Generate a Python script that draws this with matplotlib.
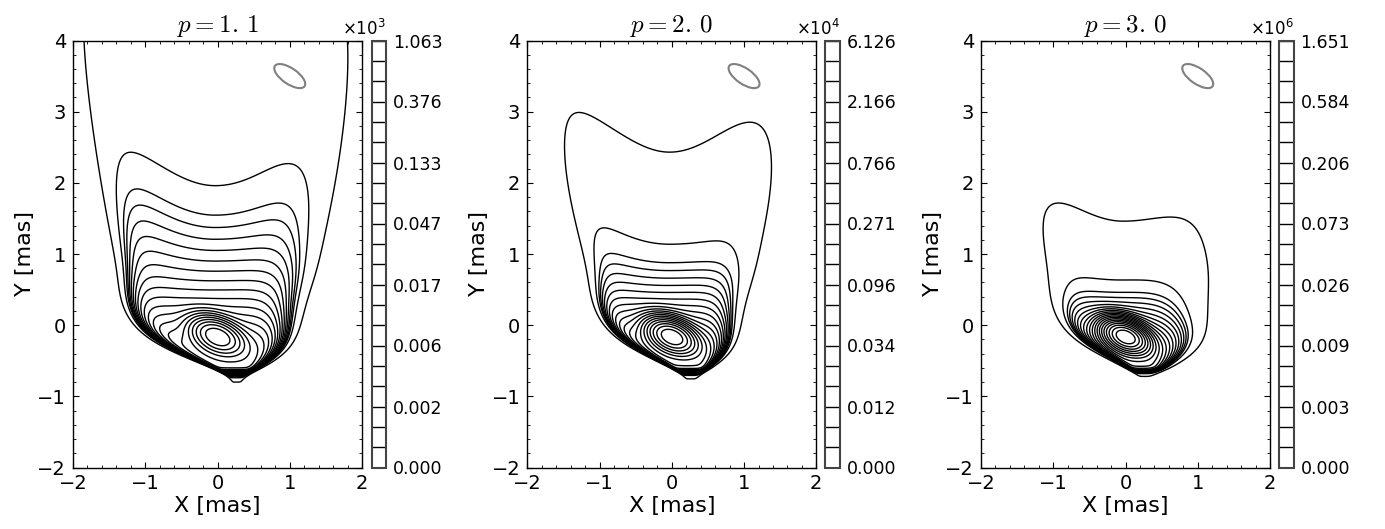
"""
Brightness maps of a limb-brightened jet for three electron indices p.
Each panel: contour map (log-spaced levels) + contour colorbar + beam.
"""
import numpy as np
import matplotlib
matplotlib.use("Agg")
import matplotlib.pyplot as plt
from matplotlib.patches import Ellipse
from matplotlib.ticker import MultipleLocator

# --- panel data -----------------------------------------------------------
P_VALUES = [1.1, 2.0, 3.0]
PEAKS = [1.063e3, 6.126e4, 1.651e6]          # colorbar maximum
PEAK_EXP = [3, 4, 6]                          # colorbar offset (x10^n)
CBAR_LABELS = [
    ["0.000", "0.002", "0.006", "0.017", "0.047", "0.133", "0.376", "1.063"],
    ["0.000", "0.012", "0.034", "0.096", "0.271", "0.766", "2.166", "6.126"],
    ["0.000", "0.003", "0.009", "0.026", "0.073", "0.206", "0.584", "1.651"],
]
CONTRAST = [1.0, 1.28, 1.62]                  # how fast each map falls off
WIDTH_SCALE = [(1.0, 1.0), (0.82, 0.88), (0.72, 0.95)]   # left / right, near base
EDGE_SCALE = [1.0, 1.0, 0.6]                  # sharpness of the jet edges
# contour levels, log2 of the fraction of the peak (22 levels)
LEVEL_LOG2 = [-15.0, -10.6] + [-k / 2 for k in range(19, -1, -1)]

# beam
BEAM_XY = (1.0, 3.5)
BEAM_SIZE = (0.5, 0.22)
BEAM_ANGLE = -35

BASE_Y = -0.72          # apex of the jet
BASE_ROUND = 0.12
FAR_X = -0.03
BASE_DX = 0.3
BEND = 0.05
W_OPEN = (0.85, 0.76)   # left / right
S_OPEN = (0.49, 0.45)
W_GROW = (0.19, 0.2)
EDGE_POW = (10, 6)
LIMB_SLOPE = 2.0
LIMB_CAP = 2.5
LIMB_Y = (0.7, 1.15)
LIMB_SOFT = 0.3
TAIL_FRAC = 0.125
TAIL_ORIGIN = -2.0
TAIL_INDEX = 6.9
TAIL_CAP_Y = -0.2
WALL_Y = -0.63
WALL_W = 0.02
CORE_XY = (0.0, -0.16)
CORE_SIG = (0.2, 0.12)
CORE_ANGLE = -25


def jet_map(X, Y, width_scale, edge_scale):
    s = Y - BASE_Y
    r = 0.5 * (s + np.sqrt(s**2 + BASE_ROUND**2))
    xc = (FAR_X + BASE_DX * np.exp(-(r / 0.45) ** 2)
          - BEND * np.exp(-((r - 1.0) / 0.45) ** 2))
    left = X < xc
    pick = lambda pair: np.where(left, pair[0], pair[1])
    w = pick(W_OPEN) * np.tanh(r / pick(S_OPEN)) + pick(W_GROW) * r
    k = pick(width_scale)
    w = w * (k + (1 - k) * np.tanh((r / 2.5) ** 2))
    u = np.minimum(np.abs(X - xc) / w, 20)
    limb = LIMB_SLOPE * LIMB_SOFT * np.logaddexp(0, (Y - pick(LIMB_Y)) / LIMB_SOFT)
    limb = LIMB_CAP * np.tanh(limb / LIMB_CAP)
    lateral = np.exp(-u ** (pick(EDGE_POW) * edge_scale)) * (1 + limb * u**2)
    y_eff = TAIL_CAP_Y + 0.1 * np.logaddexp(0, (Y - TAIL_CAP_Y) / 0.1)
    tail = TAIL_FRAC * ((y_eff - TAIL_ORIGIN) / (CORE_XY[1] - TAIL_ORIGIN)) ** (-TAIL_INDEX)
    wall = 1 / (1 + np.exp(-np.clip((Y - WALL_Y) / WALL_W, -700, 700)))
    a = np.deg2rad(CORE_ANGLE)
    dx, dy = X - CORE_XY[0], Y - CORE_XY[1]
    xr = dx * np.cos(a) + dy * np.sin(a)
    yr = -dx * np.sin(a) + dy * np.cos(a)
    core = (1 - TAIL_FRAC) * np.exp(-0.5 * ((xr / CORE_SIG[0])**2 + (yr / CORE_SIG[1])**2))
    h = wall * (core + tail) * lateral
    return h / h.max()


plt.rcParams.update({
    "xtick.direction": "in", "ytick.direction": "in",
    "xtick.top": True, "ytick.right": True,
    "xtick.major.size": 4, "ytick.major.size": 4,
    "xtick.minor.size": 2, "ytick.minor.size": 2,
    "axes.linewidth": 1.0,
})

x = np.linspace(-2, 2, 801)
y = np.linspace(-2, 4, 1201)
X, Y = np.meshgrid(x, y)

fig = plt.figure(figsize=(13.85, 5.29), dpi=100)
W, Hpx = 1385, 529
ax_left = [73, 527.3, 981]
cb_left = [371.5, 825.3, 1279]
bottom = (Hpx - 467.5) / Hpx
height = 427 / Hpx

for i, p in enumerate(P_VALUES):
    ax = fig.add_axes([ax_left[i] / W, bottom, 289 / W, height])
    cax = fig.add_axes([cb_left[i] / W, bottom, 14.5 / W, height])

    H = jet_map(X, Y, WIDTH_SCALE[i], EDGE_SCALE[i])
    Z = PEAKS[i] * H ** CONTRAST[i]
    levels = [PEAKS[i] * 2.0**e for e in LEVEL_LOG2]
    cs = ax.contour(X, Y, Z, levels=levels, colors="k", linewidths=1.0)
    ax.add_patch(Ellipse(BEAM_XY, BEAM_SIZE[0], BEAM_SIZE[1], angle=BEAM_ANGLE,
                         fill=False, edgecolor="#808080", linewidth=1.5))

    ax.set_xlim(-2, 2)
    ax.set_ylim(-2, 4)
    ax.set_xticks([-2, -1, 0, 1, 2])
    ax.set_yticks([-2, -1, 0, 1, 2, 3, 4])
    ax.xaxis.set_minor_locator(MultipleLocator(0.2))
    ax.yaxis.set_minor_locator(MultipleLocator(0.2))
    ax.tick_params(labelsize=14, pad=5)
    ax.set_xlabel("X [mas]", fontsize=16, labelpad=2)
    ax.set_ylabel("Y [mas]", fontsize=16, labelpad=2)
    ptxt = f"{p:.1f}".replace(".", r".\,")
    ax.set_title(rf"$p={ptxt}$", fontsize=18, math_fontfamily="cm", pad=6)

    cb = fig.colorbar(cs, cax=cax)
    cb.set_ticks(levels[::3], labels=CBAR_LABELS[i])
    cb.ax.tick_params(labelsize=12.5, length=0, pad=5)
    cb.outline.set_edgecolor("#444444")
    cb.outline.set_linewidth(1.5)
    cax.text(1.0, 1.004, rf"$\times10^{{{PEAK_EXP[i]}}}$", transform=cax.transAxes,
             ha="right", va="bottom", fontsize=12, math_fontfamily="dejavusans")

fig.savefig("out.png", dpi=100)
